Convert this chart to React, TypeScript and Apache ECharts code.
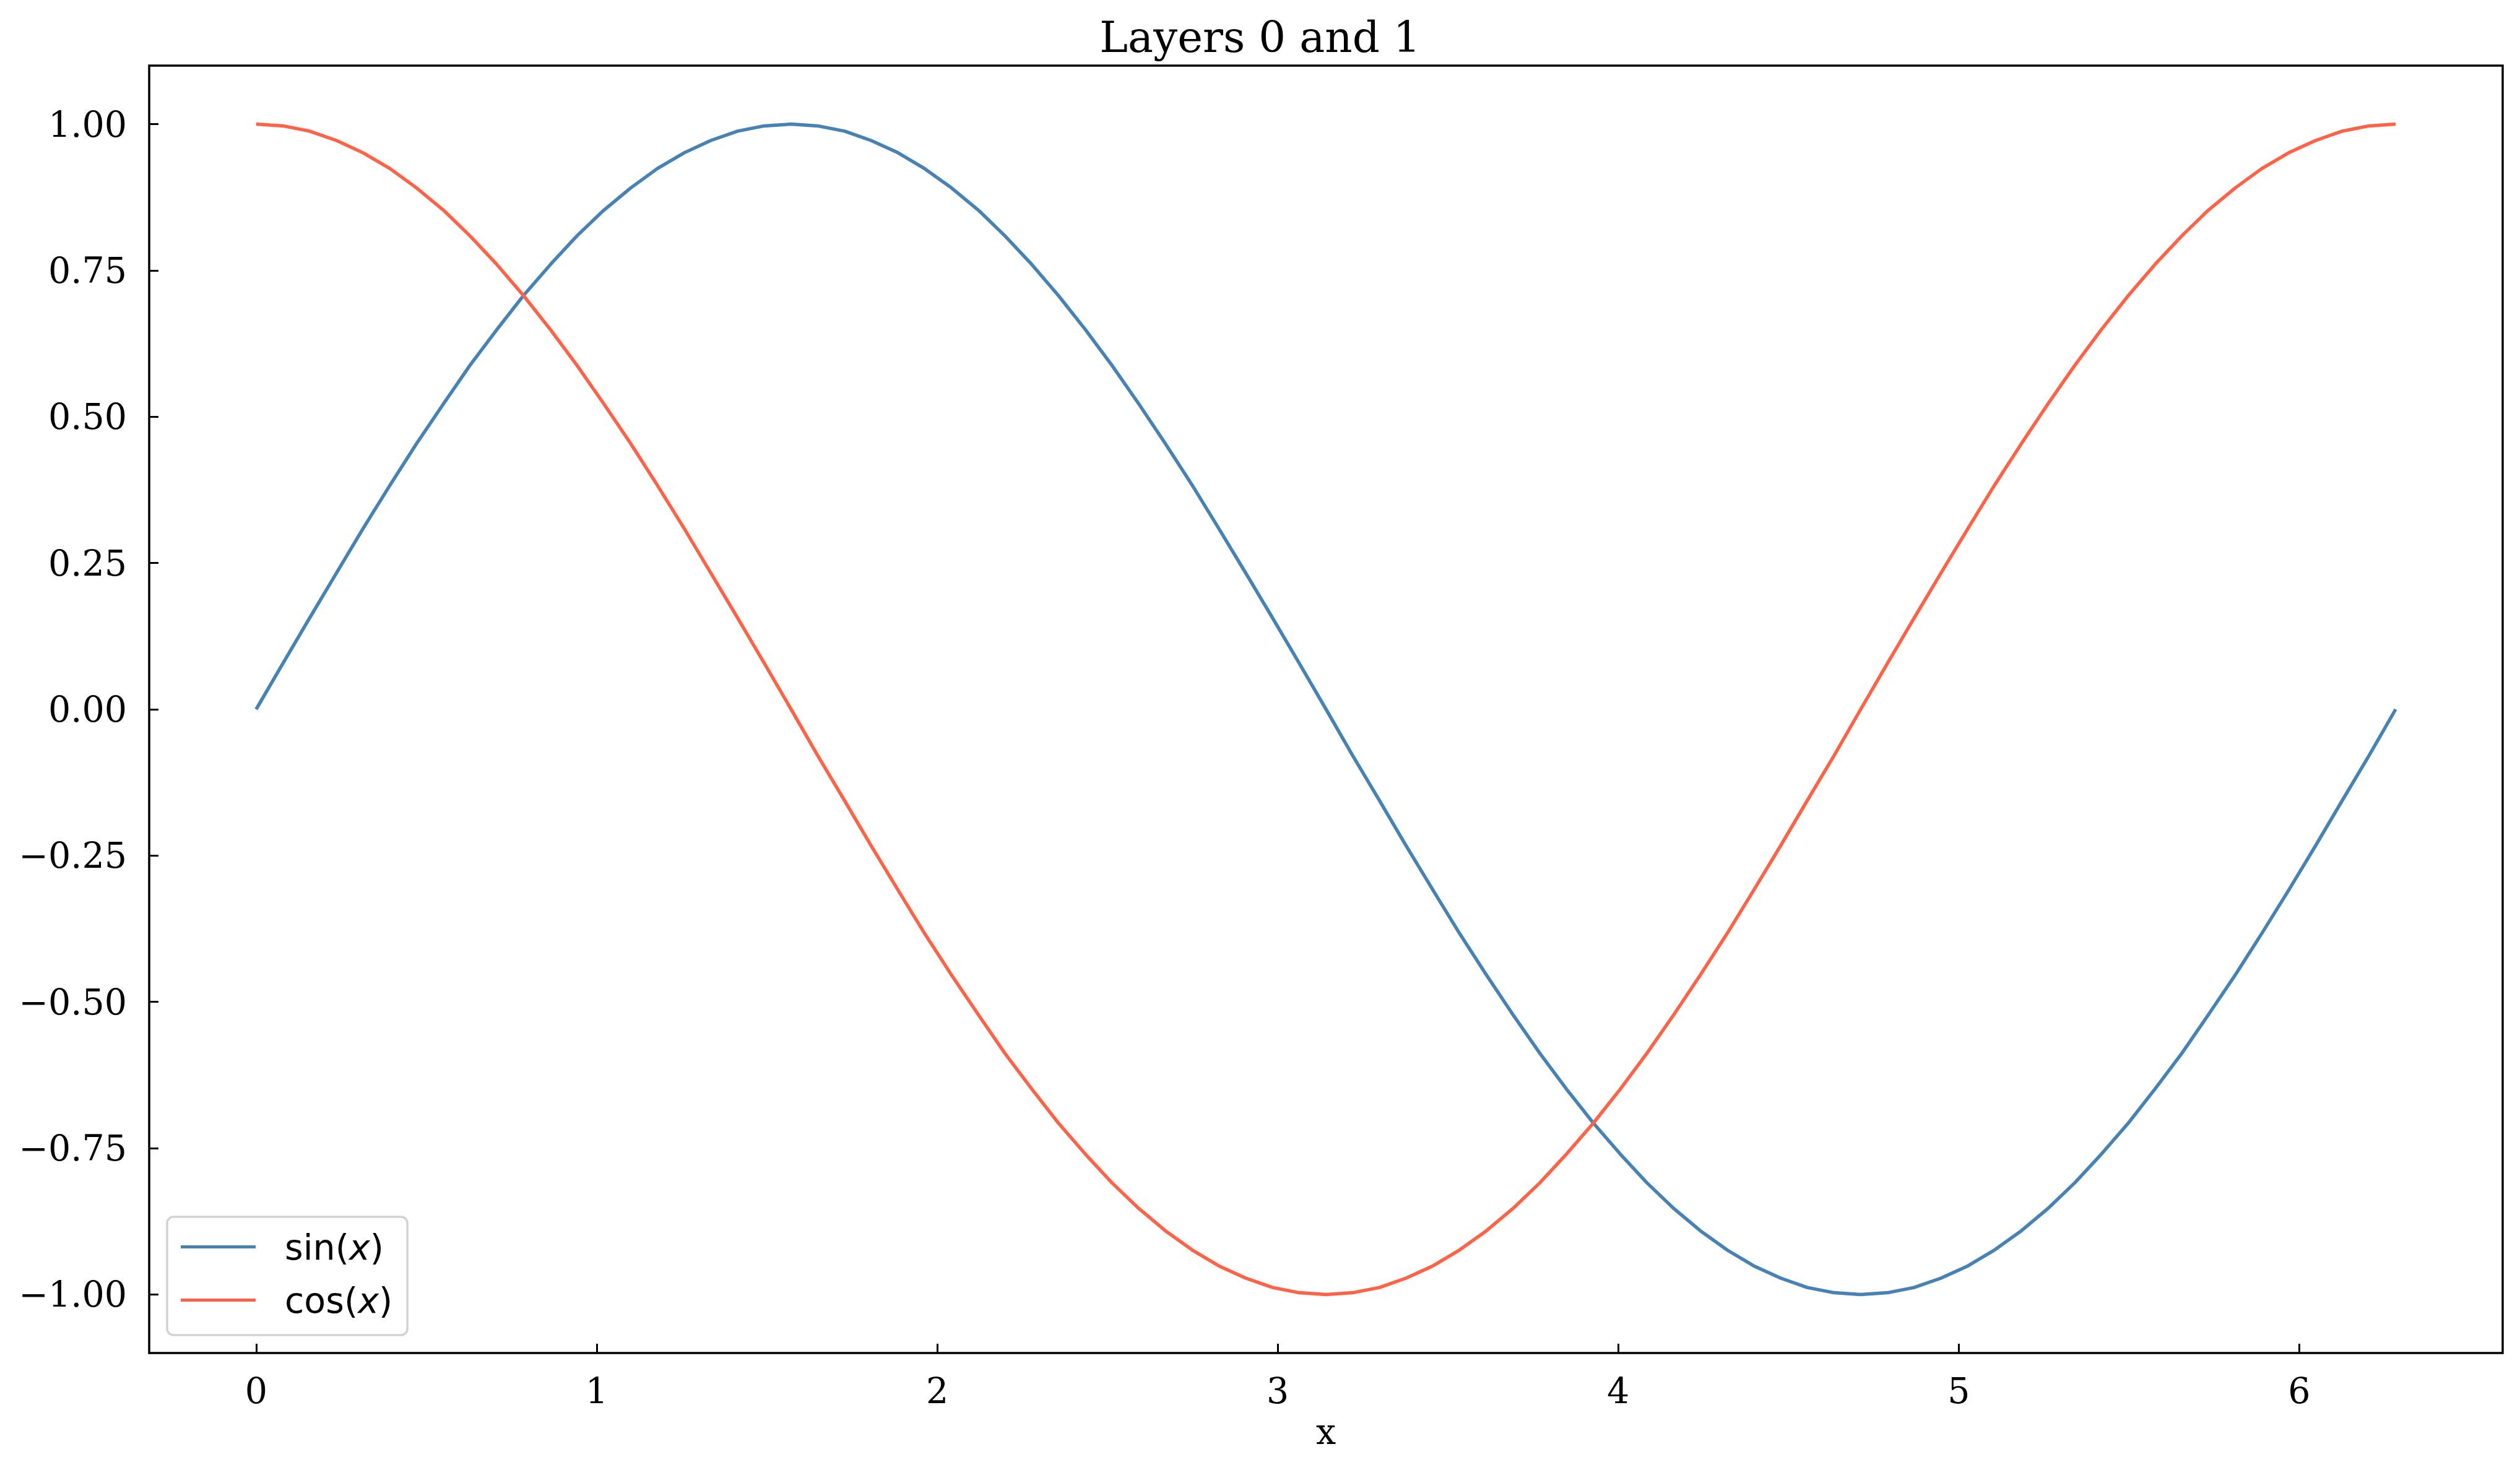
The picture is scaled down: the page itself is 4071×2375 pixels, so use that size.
import React, { useEffect, useRef } from "react";
import * as echarts from "echarts";

const title = "Layers 0 and 1";
const xName = "x";
const seriesNames = ["sin", "cos"];
const xTicks = [0, 1, 2, 3, 4, 5, 6];
const yTicks = [-1, -0.75, -0.5, -0.25, 0, 0.25, 0.5, 0.75, 1];

const xs = [
  0, 0.079, 0.157, 0.236, 0.314, 0.393, 0.471, 0.55, 0.628, 0.707, 0.785, 0.864, 0.942, 1.021,
  1.1, 1.178, 1.257, 1.335, 1.414, 1.492, 1.571, 1.649, 1.728, 1.806, 1.885, 1.963, 2.042,
  2.121, 2.199, 2.278, 2.356, 2.435, 2.513, 2.592, 2.67, 2.749, 2.827, 2.906, 2.985, 3.063,
  3.142, 3.22, 3.299, 3.377, 3.456, 3.534, 3.613, 3.691, 3.77, 3.848, 3.927, 4.006, 4.084,
  4.163, 4.241, 4.32, 4.398, 4.477, 4.555, 4.634, 4.712, 4.791, 4.869, 4.948, 5.027, 5.105,
  5.184, 5.262, 5.341, 5.419, 5.498, 5.576, 5.655, 5.733, 5.812, 5.89, 5.969, 6.048, 6.126,
  6.205, 6.283,
];
const sinValues = [
  0, 0.079, 0.156, 0.233, 0.309, 0.383, 0.454, 0.522, 0.588, 0.649, 0.707, 0.76, 0.809, 0.853,
  0.891, 0.924, 0.951, 0.972, 0.988, 0.997, 1.0, 0.997, 0.988, 0.972, 0.951, 0.924, 0.891,
  0.853, 0.809, 0.76, 0.707, 0.649, 0.588, 0.522, 0.454, 0.383, 0.309, 0.233, 0.156, 0.079, 0,
  -0.079, -0.156, -0.233, -0.309, -0.383, -0.454, -0.522, -0.588, -0.649, -0.707, -0.76,
  -0.809, -0.853, -0.891, -0.924, -0.951, -0.972, -0.988, -0.997, -1.0, -0.997, -0.988,
  -0.972, -0.951, -0.924, -0.891, -0.853, -0.809, -0.76, -0.707, -0.649, -0.588, -0.522,
  -0.454, -0.383, -0.309, -0.233, -0.156, -0.079, 0,
];
const cosValues = [
  1.0, 0.997, 0.988, 0.972, 0.951, 0.924, 0.891, 0.853, 0.809, 0.76, 0.707, 0.649, 0.588,
  0.522, 0.454, 0.383, 0.309, 0.233, 0.156, 0.079, 0, -0.079, -0.156, -0.233, -0.309, -0.383,
  -0.454, -0.522, -0.588, -0.649, -0.707, -0.76, -0.809, -0.853, -0.891, -0.924, -0.951,
  -0.972, -0.988, -0.997, -1.0, -0.997, -0.988, -0.972, -0.951, -0.924, -0.891, -0.853,
  -0.809, -0.76, -0.707, -0.649, -0.588, -0.522, -0.454, -0.383, -0.309, -0.233, -0.156,
  -0.079, 0, 0.079, 0.156, 0.233, 0.309, 0.383, 0.454, 0.522, 0.588, 0.649, 0.707, 0.76,
  0.809, 0.853, 0.891, 0.924, 0.951, 0.972, 0.988, 0.997, 1.0,
];

const colors = ["#4682b4", "#ff6347"];
const SERIF = "'DejaVu Serif', serif";
const SANS = "'DejaVu Sans', sans-serif";

function fmtY(v: number): string {
  const s = Math.abs(v).toFixed(2);
  return v < 0 ? "\u2212" + s : s;
}

export default function App() {
  const ref = useRef<HTMLDivElement>(null);
  useEffect(() => {
    if (!ref.current) return;
    const chart = echarts.init(ref.current, null, { renderer: "svg" });
    const series = [sinValues, cosValues].map((vals, k) => ({
      name: seriesNames[k],
      type: "line",
      data: xs.map((x, i) => [x, vals[i]]),
      symbol: "none",
      smooth: false,
      lineStyle: { color: colors[k], width: 5.5, join: "round", cap: "butt" },
      itemStyle: { color: colors[k] },
    }));
    chart.setOption({
      animation: false,
      backgroundColor: "#ffffff",
      title: {
        text: title,
        left: "center",
        top: 20,
        textStyle: { fontFamily: SERIF, fontSize: 69, fontWeight: "normal", color: "#000" },
      },
      grid: {
        left: 241,
        top: 106,
        right: 28,
        bottom: 189,
        show: true,
        borderColor: "#000",
        borderWidth: 3.5,
        backgroundColor: "transparent",
      },
      legend: {
        left: 270,
        top: 1966,
        orient: "vertical",
        icon: "rect",
        itemWidth: 121,
        itemHeight: 5,
        itemGap: 29,
        padding: [20, 24, 28, 22],
        backgroundColor: "rgba(255,255,255,0.8)",
        borderColor: "#d3d3d3",
        borderWidth: 3.5,
        borderRadius: 10,
        formatter: (name: string) => name + "({i|x})",
        textStyle: {
          fontFamily: SANS,
          fontSize: 57,
          lineHeight: 57,
          color: "#000",
          padding: [0, 0, 0, 42],
          rich: {
            i: { fontFamily: SANS, fontSize: 57, fontStyle: "italic", color: "#000", lineHeight: 57 },
          },
        },
        data: seriesNames,
      },
      xAxis: {
        type: "value",
        min: -0.31416,
        max: 6.59734,
        name: xName,
        nameLocation: "middle",
        nameGap: 98,
        nameTextStyle: { fontFamily: SERIF, fontSize: 57, color: "#000" },
        axisLine: { show: false, onZero: false },
        splitLine: { show: false },
        axisTick: {
          show: true,
          inside: true,
          length: 15,
          customValues: xTicks,
          lineStyle: { color: "#000", width: 3 },
        },
        axisLabel: {
          show: true,
          margin: 32,
          customValues: xTicks,
          formatter: (v: number) => String(v),
          fontFamily: SERIF,
          fontSize: 57,
          color: "#000",
        },
      },
      yAxis: {
        type: "value",
        min: -1.1,
        max: 1.1,
        axisLine: { show: false, onZero: false },
        splitLine: { show: false },
        axisTick: {
          show: true,
          inside: true,
          length: 15,
          customValues: yTicks,
          lineStyle: { color: "#000", width: 3 },
        },
        axisLabel: {
          show: true,
          margin: 36,
          customValues: yTicks,
          formatter: (v: number) => fmtY(v),
          fontFamily: SERIF,
          fontSize: 57,
          color: "#000",
        },
      },
      series,
    });
    return () => chart.dispose();
  }, []);
  return (
    <div
      ref={ref}
      style={{ position: "absolute", left: 0, top: 0, width: 4071, height: 2375, background: "#fff" }}
    />
  );
}
